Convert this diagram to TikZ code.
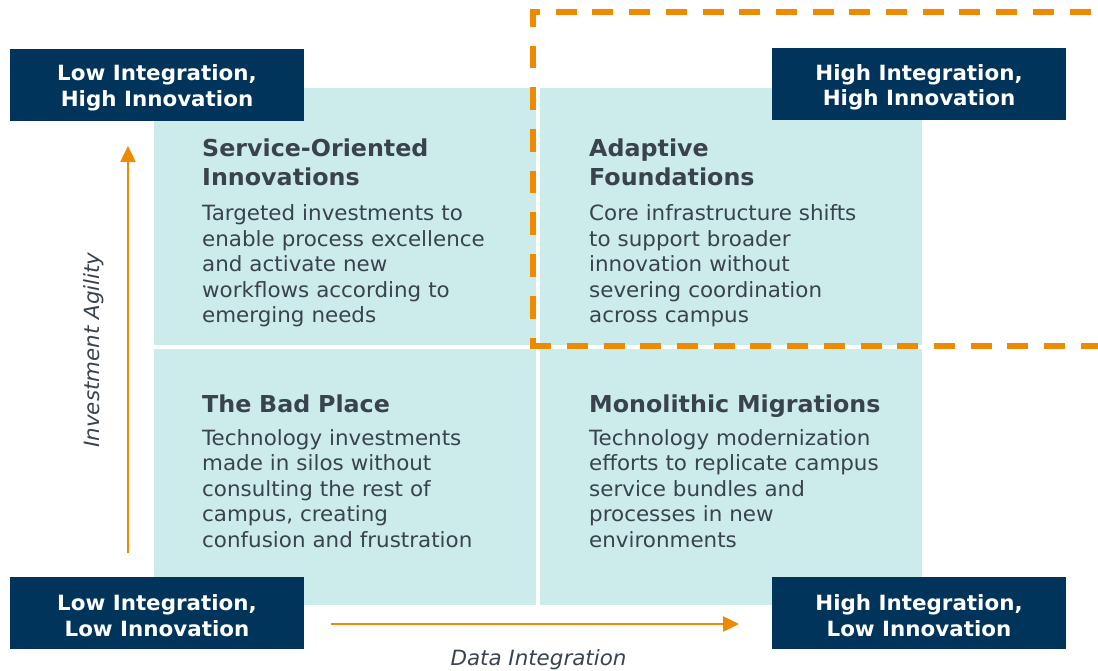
\documentclass[tikz,border=0pt]{standalone}
\usepackage{fontspec}
\setmainfont{DejaVu Sans}[FakeStretch=1.02]
\usetikzlibrary{arrows.meta}
\definecolor{navy}{HTML}{00345A}
\definecolor{quadfill}{HTML}{CCEBEB}
\definecolor{txtgray}{HTML}{39434E}
\definecolor{orng}{HTML}{EE8A00}
\tikzset{
  quad/.style={fill=quadfill, draw=none, inner sep=0pt, anchor=north west},
  navybox/.style={fill=navy, minimum width=294pt, minimum height=72pt, inner sep=0pt},
  boxtext/.style={text=white, inner sep=0pt, align=center, yshift=-3pt,
    font=\fontsize{21}{25.5}\selectfont\bfseries},
  qtitle/.style={anchor=base west, inner sep=0pt, text=txtgray, align=left, text width=330pt,
    font=\fontsize{23.3}{28.5}\selectfont\bfseries},
  qbody/.style={anchor=base west, inner sep=0pt, text=txtgray, align=left, text width=330pt,
    font=\fontsize{21}{25.5}\selectfont},
  axislabel/.style={text=txtgray, inner sep=0pt, font=\fontsize{21}{24}\selectfont\itshape},
  axisarrow/.style={draw=orng, line width=2.5pt, -{Triangle[width=15pt,length=16pt]}},
  zoneh/.style={draw=orng, line width=5.5pt, dash pattern=on 21pt off 15.7pt},
  zonev/.style={draw=orng, line width=5.5pt, dash pattern=on 22.7pt off 19pt}
}
\begin{document}
\begin{tikzpicture}[x=1pt,y=-1pt]
\useasboundingbox (0,0) rectangle (1098,671);
% quadrants
\node[quad, minimum width=382pt, minimum height=257pt] (qtl) at (154,88) {};
\node[quad, minimum width=382pt, minimum height=257pt] (qtr) at (540,88) {};
\node[quad, minimum width=382pt, minimum height=256pt] (qbl) at (154,349) {};
\node[quad, minimum width=382pt, minimum height=256pt] (qbr) at (540,349) {};
% dashed zone
\coordinate (ztl) at (530.25,12);
\coordinate (ztt) at (533,9.25);
\coordinate (zbl) at (533,346);
\coordinate (zbs) at (530.25,346);
\coordinate (ztr) at (1110,12);
\coordinate (zbr) at (1110,346);
\draw[zoneh, dash phase=11.25pt] (ztl) -- (ztr);
\draw[zonev, dash phase=5.25pt] (ztt) -- (zbl);
\draw[zoneh] (zbs) -- (zbr);
% corner boxes
\node[navybox, label={[boxtext]center:{Low Integration,\\High Innovation}}] (btl) at (157,85) {};
\node[navybox, label={[boxtext]center:{High Integration,\\High Innovation}}] (btr) at (919,84.5) {};
\node[navybox, label={[boxtext]center:{Low Integration,\\Low Innovation}}] (bbl) at (157,612.5) {};
\node[navybox, label={[boxtext]center:{High Integration,\\Low Innovation}}] (bbr) at (919,612.5) {};
% quadrant texts
\node[qtitle] (t1) at (202,157) {Service-Oriented\\Innovations};
\node[qbody] (d1) at (202,221) {Targeted investments to\\enable process excellence\\and activate new\\workflows according to\\emerging needs};
\node[qtitle] (t2) at (589,157) {Adaptive\\Foundations};
\node[qbody] (d2) at (589,221) {Core infrastructure shifts\\to support broader\\innovation without\\severing coordination\\across campus};
\node[qtitle] (t3) at (202,412) {The Bad Place};
\node[qbody] (d3) at (202,445) {Technology investments\\made in silos without\\consulting the rest of\\campus, creating\\confusion and frustration};
\node[qtitle] (t4) at (589,412) {Monolithic Migrations};
\node[qbody] (d4) at (589,445) {Technology modernization\\efforts to replicate campus\\service bundles and\\processes in new\\environments};
% axes
\coordinate (vs) at (128,553);
\coordinate (ve) at (128,146);
\coordinate (hs) at (331,624);
\coordinate (he) at (739,624);
\draw[axisarrow] (vs) -- (ve);
\draw[axisarrow] (hs) -- (he);
\node[axislabel, rotate=90] (ylab) at (93.5,350) {Investment Agility};
\node[axislabel] (xlab) at (538.5,659.5) {Data Integration};
\end{tikzpicture}
\end{document}
